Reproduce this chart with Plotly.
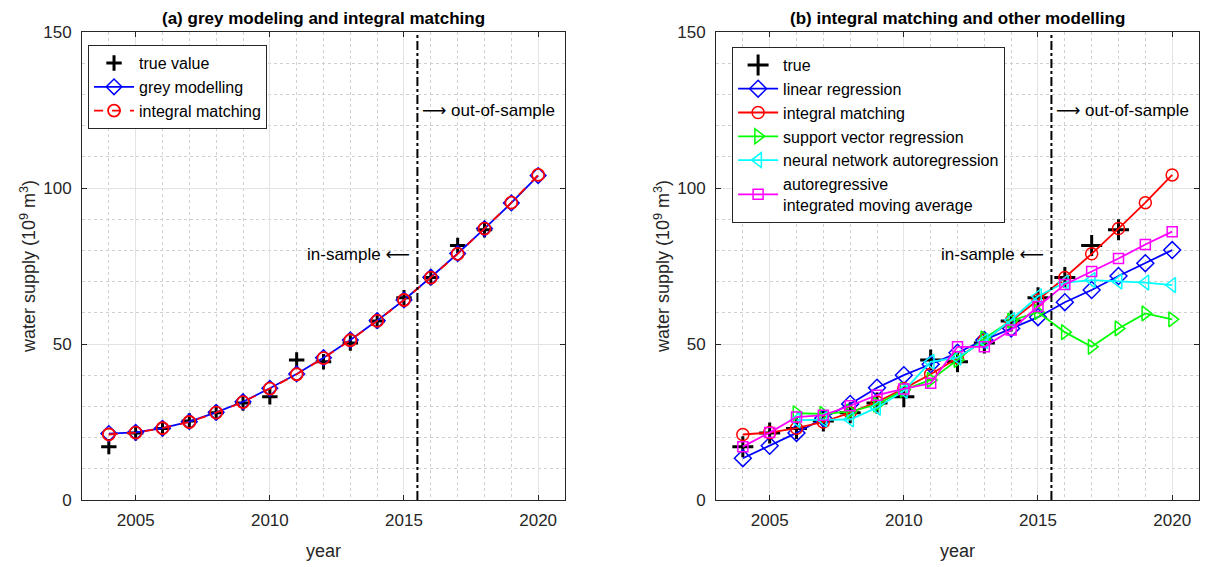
import plotly.graph_objects as go

years = list(range(2004, 2021))
true_years = list(range(2004, 2019))
true_vals = [17.1, 21.5, 22.9, 25.3, 28.0, 31.1, 33.1, 44.9, 44.3, 50.3, 57.4, 64.8, 71.3, 81.6, 86.6]
grey_model = [21.3, 21.7, 23.0, 25.1, 28.1, 31.5, 35.8, 40.4, 45.6, 51.3, 57.5, 64.1, 71.4, 79.0, 87.0, 95.2, 104.0]
integral_matching = [21.0, 21.6, 23.0, 25.0, 28.0, 31.4, 35.7, 40.3, 45.5, 51.2, 57.4, 64.1, 71.3, 78.9, 87.0, 95.3, 104.2]
linear_regression = [13.4, 17.4, 21.5, 26.2, 30.8, 36.0, 40.0, 43.5, 47.2, 51.3, 55.0, 58.6, 63.4, 67.3, 71.8, 75.9, 80.1]
svr_years = list(range(2006, 2021))
svr = [27.8, 27.6, 28.3, 30.6, 35.3, 38.5, 44.9, 51.8, 57.5, 60.2, 53.8, 49.1, 55.0, 59.8, 57.9]
nnar_years = list(range(2006, 2021))
nnar = [25.6, 25.8, 25.8, 29.6, 35.0, 44.3, 45.6, 51.0, 57.7, 65.3, 69.7, 70.5, 70.0, 69.7, 68.9]
arima = [17.1, 21.6, 26.6, 27.2, 30.2, 33.6, 35.6, 37.4, 49.1, 49.1, 54.5, 62.0, 69.1, 73.2, 77.4, 81.9, 86.0]

split_year = 2015.5
x_ticks = [2005, 2010, 2015, 2020]
y_ticks = [0, 50, 100, 150]

FONT = "Liberation Sans, Arial, sans-serif"
BLUE = "#0000ff"
RED = "#ff0000"
GREEN = "#00ff00"
CYAN = "#00ffff"
MAGENTA = "#ff00ff"

fig = go.Figure()

# ---- panel (a)
fig.add_trace(go.Scatter(x=true_years, y=true_vals, mode="markers", name="true value",
                         marker=dict(symbol="cross-thin", size=11, color="black",
                                     line=dict(width=3, color="black")),
                         xaxis="x", yaxis="y", legend="legend"))
fig.add_trace(go.Scatter(x=years, y=grey_model, mode="lines+markers", name="grey modelling",
                         line=dict(color=BLUE, width=1.8),
                         marker=dict(symbol="diamond-open", size=12, color=BLUE, line=dict(width=1.5)),
                         xaxis="x", yaxis="y", legend="legend"))
fig.add_trace(go.Scatter(x=years, y=integral_matching, mode="lines+markers", name="integral matching",
                         line=dict(color=RED, width=1.8, dash="dash"),
                         marker=dict(symbol="circle-open", size=12, color=RED, line=dict(width=1.8)),
                         xaxis="x", yaxis="y", legend="legend"))

# ---- panel (b)
fig.add_trace(go.Scatter(x=true_years, y=true_vals, mode="markers", name="true",
                         marker=dict(symbol="cross-thin", size=15, color="black",
                                     line=dict(width=3, color="black")),
                         xaxis="x2", yaxis="y2", legend="legend2"))
fig.add_trace(go.Scatter(x=years, y=linear_regression, mode="lines+markers", name="linear regression",
                         line=dict(color=BLUE, width=1.8),
                         marker=dict(symbol="diamond-open", size=13, color=BLUE, line=dict(width=1.5)),
                         xaxis="x2", yaxis="y2", legend="legend2"))
fig.add_trace(go.Scatter(x=years, y=integral_matching, mode="lines+markers", name="integral matching",
                         line=dict(color=RED, width=1.8),
                         marker=dict(symbol="circle-open", size=12, color=RED, line=dict(width=1.5)),
                         xaxis="x2", yaxis="y2", legend="legend2"))
fig.add_trace(go.Scatter(x=svr_years, y=svr, mode="lines+markers", name="support vector regression",
                         line=dict(color=GREEN, width=1.8),
                         marker=dict(symbol="triangle-right-open", size=13, color=GREEN, line=dict(width=1.5)),
                         xaxis="x2", yaxis="y2", legend="legend2"))
fig.add_trace(go.Scatter(x=nnar_years, y=nnar, mode="lines+markers", name="neural network autoregression",
                         line=dict(color=CYAN, width=1.8),
                         marker=dict(symbol="triangle-left-open", size=13, color=CYAN, line=dict(width=1.5)),
                         xaxis="x2", yaxis="y2", legend="legend2"))
fig.add_trace(go.Scatter(x=years, y=arima, mode="lines+markers",
                         name="autoregressive<br>integrated moving average",
                         line=dict(color=MAGENTA, width=1.8),
                         marker=dict(symbol="square-open", size=10, color=MAGENTA, line=dict(width=1.5)),
                         xaxis="x2", yaxis="y2", legend="legend2"))

def xax(domain, anchor):
    return dict(domain=domain, anchor=anchor, range=[2003, 2021], tickvals=x_ticks,
                automargin=False, ticklabelstandoff=5,
                showgrid=True, gridcolor="#e3e3e3", gridwidth=1,
                minor=dict(dtick=1, tick0=2003, showgrid=True, gridcolor="#d0d0d0", griddash="dot", gridwidth=1, ticklen=0),
                ticks="inside", ticklen=5, tickcolor="#262626",
                showline=True, linecolor="#262626", linewidth=1, mirror="ticks",
                zeroline=False, tickfont=dict(family=FONT, size=17, color="#262626"),
                title=dict(text="year", font=dict(family=FONT, size=18, color="#262626"), standoff=14))

def yax(anchor):
    return dict(domain=[0, 1], anchor=anchor, range=[0, 150], tickvals=y_ticks,
                automargin=False, ticklabelstandoff=6,
                showgrid=True, gridcolor="#e3e3e3", gridwidth=1,
                minor=dict(dtick=10, tick0=0, showgrid=True, gridcolor="#d0d0d0", griddash="dot", gridwidth=1, ticklen=0),
                ticks="inside", ticklen=5, tickcolor="#262626",
                showline=True, linecolor="#262626", linewidth=1, mirror="ticks",
                zeroline=False, tickfont=dict(family=FONT, size=17, color="#262626"),
                title=dict(text="water supply (10<sup>9</sup> m<sup>3</sup>)",
                           font=dict(family=FONT, size=18, color="#262626"), standoff=2))

L_DOM = [0, 0.4324]
R_DOM = [0.5676, 1.0]

LEG_FONT = dict(family=FONT, size=16, color="black")

fig.update_layout(
    width=1201, height=559,
    margin=dict(l=74, r=10, t=24, b=67),
    paper_bgcolor="white", plot_bgcolor="white",
    font=dict(family=FONT, color="#262626"),
    xaxis=xax(L_DOM, "y"), yaxis=yax("x"),
    xaxis2=xax(R_DOM, "y2"), yaxis2=yax("x2"),
    legend=dict(x=0.0054, y=0.972, xanchor="left", yanchor="top", bgcolor="white",
                bordercolor="#262626", borderwidth=1, font=LEG_FONT,
                itemwidth=40, tracegroupgap=0),
    legend2=dict(x=0.582, y=0.968, xanchor="left", yanchor="top", bgcolor="white",
                 bordercolor="#262626", borderwidth=1, font=LEG_FONT,
                 itemwidth=40, tracegroupgap=0),
    showlegend=True,
)

ARROW_R = '<span style="font-family:DejaVu Sans">\u27f6</span> out-of-sample'
ARROW_L = 'in-sample <span style="font-family:DejaVu Sans">\u27f5</span>'

for xr, yr in [("x", "y"), ("x2", "y2")]:
    fig.add_shape(type="line", xref=xr, yref="y domain" if yr == "y" else "y2 domain",
                  x0=split_year, x1=split_year, y0=0, y1=1,
                  line=dict(color="black", width=2, dash="dashdot"))
    fig.add_annotation(xref=xr, yref=yr, x=split_year, y=125, text=ARROW_R,
                       showarrow=False, xanchor="left", xshift=3,
                       font=dict(family=FONT, size=17, color="black"))
    fig.add_annotation(xref=xr, yref=yr, x=split_year, y=79, text=ARROW_L,
                       showarrow=False, xanchor="right", xshift=-5,
                       font=dict(family=FONT, size=17, color="black"))

fig.add_annotation(xref="paper", yref="paper", x=sum(L_DOM) / 2, y=1.0, yshift=2,
                   text="<b>(a) grey modeling and integral matching</b>", showarrow=False,
                   xanchor="center", yanchor="bottom", font=dict(family=FONT, size=17, color="black"))
fig.add_annotation(xref="paper", yref="paper", x=sum(R_DOM) / 2, y=1.0, yshift=2,
                   text="<b>(b) integral matching and other modelling</b>", showarrow=False,
                   xanchor="center", yanchor="bottom", font=dict(family=FONT, size=17, color="black"))

fig.write_html("out.html")
